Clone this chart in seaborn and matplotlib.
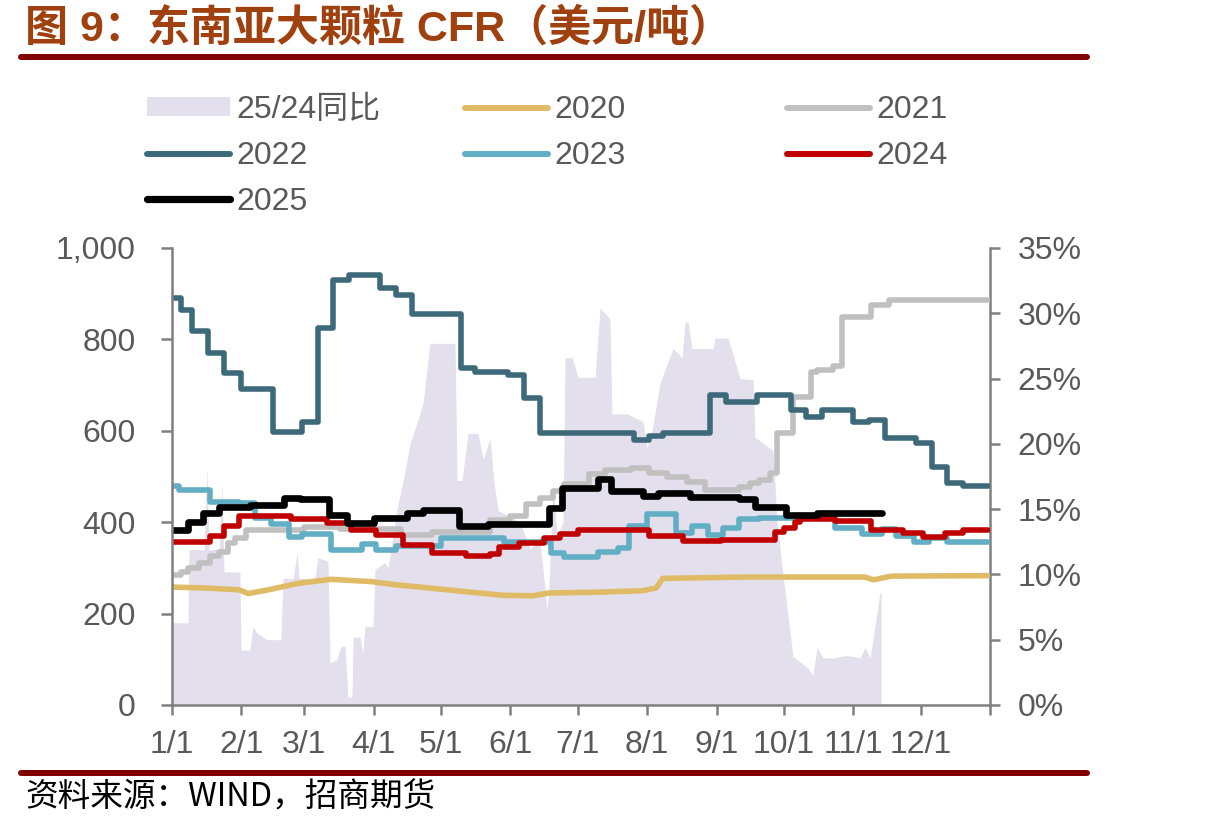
import matplotlib
matplotlib.use("Agg")
import matplotlib.pyplot as plt
import seaborn as sns
import pandas as pd
from matplotlib.ticker import FuncFormatter, FixedLocator
from matplotlib.patches import Patch
from matplotlib.lines import Line2D

# ---------------- data (day of year, value) ----------------
month_ticks = [0, 31, 59, 90, 120, 151, 181, 212, 243, 273, 304, 334, 365]
month_labels = ["1/1", "2/1", "3/1", "4/1", "5/1", "6/1", "7/1", "8/1",
                "9/1", "10/1", "11/1", "12/1", ""]

yoy_days = [0, 7.1, 7.6, 14.3, 15.6, 16.5, 21, 22.3, 23.2, 30.3, 30.8, 34.8, 36.1,
            37.9, 42.4, 48.6, 49.5, 54, 55.8, 56.7, 63.8, 65.1, 69.6, 70.5, 73.6,
            75.4, 77.2, 78.5, 80.3, 80.8, 83.9, 85.2, 86.1, 89.7, 90.6, 95, 96.4,
            100.4, 103.5, 106.2, 109.3, 112, 115.1, 126.3, 127.2, 129.4, 132.1,
            136.5, 138.8, 141.9, 143.7, 145.5, 155.3, 159.7, 164.2, 166.4, 167.3,
            168.2, 170, 171.8, 174.5, 175.4, 178.5, 181.2, 188.8, 191, 195.4,
            196.3, 203, 210.2, 212, 214.2, 217.8, 223.6, 227.6, 228.9, 230.3, 232,
            241.4, 242.3, 248.1, 253.5, 259.3, 260.1, 268.2, 270, 272.6, 274.4,
            277.1, 283.3, 286, 287.8, 290.5, 295, 301.2, 307, 309.2, 311.5, 315.9,
            316.4]
yoy_vals = [6.3, 6.3, 11.9, 11.9, 18.2, 11.9, 11.9, 16.9, 10.2, 10.2, 4.2, 4.2, 6.0,
            5.5, 5.0, 5.0, 9.7, 9.7, 11.6, 9.7, 9.7, 11.3, 11.0, 3.2, 3.5,
            4.5, 4.5, 0.6, 0.6, 5.2, 5.2, 4.0, 6.0, 6.0, 10.4, 10.9, 10.5,
            15.0, 17.5, 20.0, 21.6, 23.1, 27.7, 27.7, 17.2, 17.2, 20.8,
            20.8, 18.8, 20.4, 17.0, 14.9, 14.0, 12.0, 12.5, 9.0, 7.3,
            9.0, 17.0, 13.0, 14.0, 26.6, 26.6, 25.1, 25.1, 30.4, 29.6,
            22.3, 22.3, 21.7, 19.7, 21.0, 24.7, 27.3, 26.6, 29.3, 29.3, 27.3,
            27.3, 28.1, 28.1, 25.0, 24.9, 20.5, 19.5, 14.0, 10.0, 7.5,
            3.7, 2.9, 2.3, 4.4, 3.6, 3.6, 3.8, 3.6, 4.4, 3.6, 8.6,
            8.6]

d2020 = [0, 15, 30, 34, 43, 56, 71, 89, 100, 115, 131, 148, 161, 168, 191, 210,
         216, 219, 256, 309, 313, 321, 364]
v2020 = [258, 256, 252, 244, 252, 266, 275, 270, 263, 256, 248, 240, 239, 245, 247,
         250, 256, 277, 280, 280, 274, 282, 283]

d2021 = [0, 4, 7, 12, 17, 21, 25, 28, 33, 59, 75, 102, 116, 142, 151, 158, 164, 170,
         175, 186, 193, 205, 213, 221, 230, 238, 253, 258, 262, 267, 270, 277, 285,
         288, 295, 299, 312, 320, 364]
v2021 = [284, 291, 300, 310, 326, 335, 354, 365, 383, 389, 385, 372, 379, 405, 414,
         440, 453, 468, 484, 505, 514, 519, 507, 499, 488, 470, 477, 486, 492, 507,
         595, 674, 728, 733, 742, 849, 876, 886, 886]

d2022 = [0, 4, 9, 16, 23, 31, 45, 58, 65, 72, 79, 93, 100, 107, 129, 135, 150, 157,
         164, 206, 213, 219, 240, 247, 261, 276, 283, 290, 304, 311, 318, 332, 339,
         346, 353, 364]
v2022 = [890, 865, 818, 770, 726, 691, 597, 619, 825, 930, 941, 912, 897, 855, 737,
         729, 722, 672, 595, 580, 589, 595, 678, 663, 678, 645, 630, 645, 619, 623,
         584, 573, 521, 486, 479, 479]

d2023 = [0, 3, 17, 30, 37, 44, 52, 58, 71, 85, 91, 100, 120, 148, 169, 175, 190, 199,
         204, 212, 225, 232, 239, 246, 253, 262, 296, 308, 317, 323, 331, 338, 346,
         364]
v2023 = [480, 470, 444, 442, 410, 397, 368, 374, 339, 352, 339, 348, 365, 356, 333,
         323, 335, 343, 392, 417, 376, 391, 372, 387, 407, 410, 388, 375, 385, 370,
         356, 366, 356, 356]

d2024 = [0, 17, 23, 30, 53, 69, 80, 91, 103, 116, 131, 142, 146, 155, 166, 173, 181,
         213, 228, 245, 269, 273, 278, 280, 296, 312, 326, 335, 345, 353, 364]
v2024 = [356, 369, 391, 413, 408, 399, 383, 371, 350, 333, 325, 331, 346, 355, 365,
         374, 383, 370, 358, 361, 378, 388, 400, 406, 403, 384, 376, 368, 376, 382,
         382]

d2025 = [0, 7, 14, 21, 35, 50, 57, 70, 78, 90, 105, 112, 128, 141, 168, 174, 190,
         196, 210, 217, 231, 253, 260, 274, 288, 317]
v2025 = [382, 400, 421, 433, 438, 454, 451, 416, 398, 410, 420, 427, 391, 397, 432,
         475, 495, 468, 458, 464, 456, 450, 434, 415, 420, 420]

# ---------------- style ----------------
sns.set_style("white")
plt.rcParams["font.family"] = ["Liberation Sans", "Noto Sans CJK SC", "DejaVu Sans"]

C_FILL = "#E4DFEC"
C2020, C2021, C2022 = "#E0BB66", "#C0C0C0", "#3D6A7A"
C2023, C2024, C2025 = "#62AEC5", "#C00000", "#000000"
AXC = "#808080"
TXT = "#595959"

W, H = 1208, 834
fig = plt.figure(figsize=(W / 100, H / 100), dpi=100)
ax = fig.add_axes([172 / W, 1 - 705 / H, (990 - 172) / W, (705 - 248) / H])
ax2 = ax.twinx()
ax.set_zorder(ax2.get_zorder() + 1)
ax.patch.set_visible(False)

# fill on the right axis
ax2.fill_between(yoy_days, yoy_vals, 0, color=C_FILL, linewidth=0)
ax2.set_ylim(0, 35)

series = [
    (d2020, v2020, C2020, 4.0, None),
    (d2021, v2021, C2021, 4.0, "steps-post"),
    (d2022, v2022, C2022, 4.0, "steps-post"),
    (d2023, v2023, C2023, 4.0, "steps-post"),
    (d2024, v2024, C2024, 4.0, "steps-post"),
    (d2025, v2025, C2025, 4.8, "steps-post"),
]
for d, v, c, lw, ds in series:
    df = pd.DataFrame({"day": d, "val": v})
    kw = {}
    if ds:
        kw["drawstyle"] = ds
    sns.lineplot(data=df, x="day", y="val", ax=ax, color=c, linewidth=lw,
                 legend=False, estimator=None, solid_capstyle="round",
                 solid_joinstyle="round", **kw)

ax.set_xlim(0, 365)
ax.set_ylim(0, 1000)
ax2.set_xlim(0, 365)
ax.set_xlabel("")
ax.set_ylabel("")

ax.xaxis.set_major_locator(FixedLocator(month_ticks))
ax.set_xticklabels(month_labels)
ax.set_yticks([0, 200, 400, 600, 800, 1000])
ax.yaxis.set_major_formatter(FuncFormatter(lambda x, p: f"{x:,.0f}"))
ax2.set_yticks([0, 5, 10, 15, 20, 25, 30, 35])
ax2.yaxis.set_major_formatter(FuncFormatter(lambda x, p: f"{x:.0f}%"))

for s in ["top", "right"]:
    ax.spines[s].set_visible(False)
for s in ["top", "left", "bottom"]:
    ax2.spines[s].set_visible(False)
for s in ["left", "bottom"]:
    ax.spines[s].set_color(AXC)
    ax.spines[s].set_linewidth(1.8)
ax2.spines["right"].set_color(AXC)
ax2.spines["right"].set_linewidth(1.8)

ax.tick_params(axis="x", bottom=True, direction="out", length=7, width=1.8,
               color=AXC, labelsize=23, labelcolor=TXT, pad=11)
ax.tick_params(axis="y", left=True, direction="out", length=8, width=1.8,
               color=AXC, labelsize=23, labelcolor=TXT, pad=18)
ax2.tick_params(axis="y", right=True, direction="out", length=7, width=1.8,
                color=AXC, labelsize=23, labelcolor=TXT, pad=13)
ax.grid(False)
ax2.grid(False)

# ---------------- legends (three columns) ----------------
def lh(c, lw=4.3):
    return Line2D([], [], color=c, lw=lw, solid_capstyle="round")

leg_kw = dict(frameon=False, fontsize=23, labelcolor=TXT, loc="upper left",
              borderpad=0, borderaxespad=0, handlelength=2.6, handleheight=0.55,
              handletextpad=0.2, labelspacing=0.5)
top = 1 - 95 / H
cols = [
    ([Patch(facecolor=C_FILL, edgecolor="none"), lh(C2022), lh(C2025, 5.2)],
     ["25/24同比", "2022", "2025"], 147),
    ([lh(C2020), lh(C2023)], ["2020", "2023"], 465),
    ([lh(C2021), lh(C2024)], ["2021", "2024"], 787),
]
for hs, ls, x0 in cols:
    fig.legend(hs, ls, bbox_to_anchor=(x0 / W, top), **leg_kw)

# ---------------- title, rules, source ----------------
fig.text(25 / W, 1 - 29 / H, "图 9：东南亚大颗粒 CFR（美元/吨）", fontsize=31,
         fontweight="bold", color="#A0400E", va="center", ha="left")
for yy in (57, 773):
    fig.add_artist(Line2D([21 / W, 1087 / W], [1 - yy / H, 1 - yy / H],
                          color="#800000", lw=4.3, transform=fig.transFigure))
fig.text(25 / W, 1 - 798 / H, "资料来源：WIND，招商期货", fontsize=23.5,
         color="black", va="center", ha="left",
         family=["Noto Sans CJK SC", "DejaVu Sans"])

fig.savefig("out.png", dpi=100)
